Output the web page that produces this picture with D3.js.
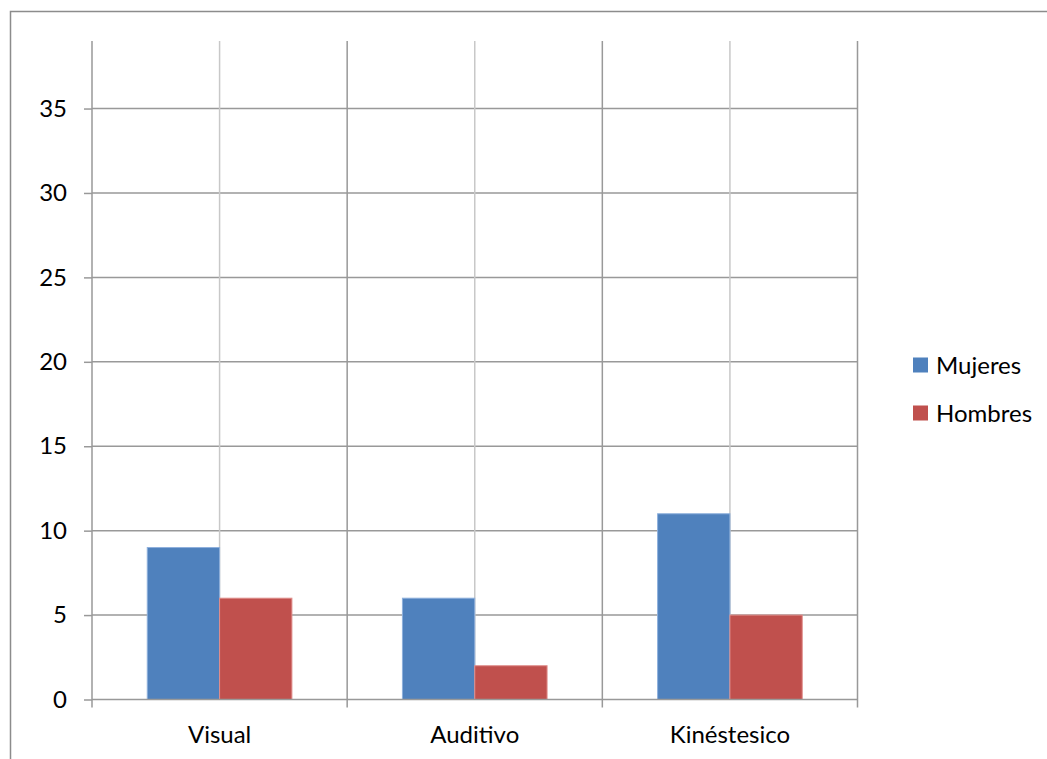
<!DOCTYPE html>
<html>
<head>
<meta charset="utf-8">
<script src="https://cdn.jsdelivr.net/npm/d3@7"></script>
<style>
  html, body { margin: 0; padding: 0; background: #fff; }
  svg { display: block; }
  text { font-family: Lato, "Open Sans", sans-serif; fill: #000; }
</style>
</head>
<body>
<svg id="chart" width="1047" height="759"></svg>
<script>
"use strict";

// data
const categories = ["Visual", "Auditivo", "Kinéstesico"];
const seriesNames = ["Mujeres", "Hombres"];
const mujeres = [9, 6, 11];
const hombres = [6, 2, 5];
const yTicks = [0, 5, 10, 15, 20, 25, 30, 35];
const seriesColors = ["#4f81bd", "#c0504d"];
const barEdge = ["#8eb0dc", "#e08f8c"];

const values = [mujeres, hombres];

const W = 1047, H = 759;
const plot = { left: 92, right: 857.5, top: 41, bottom: 699.5 };
const FONT = "Lato, 'Open Sans', sans-serif";
const FONT_SIZE = 24;

const svg = d3.select("#chart");

// chart border (runs past the window on right/bottom)
svg.append("rect")
  .attr("x", 10.5).attr("y", 11.5)
  .attr("width", W + 20).attr("height", H + 20)
  .attr("fill", "none").attr("stroke", "#8c8c8c").attr("stroke-width", 1.5);

const x = d3.scaleBand()
  .domain(categories)
  .range([plot.left, plot.right])
  .paddingInner(0).paddingOuter(0);

const xSub = d3.scaleBand()
  .domain(seriesNames)
  .range([0, x.bandwidth()])
  .paddingInner(0).paddingOuter(0.764);

const y = d3.scaleLinear()
  .domain([0, 39])
  .range([plot.bottom, plot.top]);

// horizontal gridlines
svg.append("g")
  .selectAll("line")
  .data(yTicks.filter(d => d > 0))
  .join("line")
  .attr("x1", plot.left).attr("x2", plot.right)
  .attr("y1", d => y(d)).attr("y2", d => y(d))
  .attr("stroke", "#999").attr("stroke-width", 1.5);

// minor vertical gridlines at category centres
svg.append("g")
  .selectAll("line")
  .data(categories)
  .join("line")
  .attr("x1", d => x(d) + x.bandwidth() / 2).attr("x2", d => x(d) + x.bandwidth() / 2)
  .attr("y1", plot.top).attr("y2", plot.bottom)
  .attr("stroke", "#c8c8c8").attr("stroke-width", 1.5);

// major vertical gridlines at category boundaries
const bounds = categories.map(d => x(d)).concat([plot.right]);
svg.append("g")
  .selectAll("line")
  .data(bounds.slice(1))
  .join("line")
  .attr("x1", d => d).attr("x2", d => d)
  .attr("y1", plot.top).attr("y2", plot.bottom + 8)
  .attr("stroke", "#999").attr("stroke-width", 1.5);

// bars
const groups = svg.append("g")
  .selectAll("g")
  .data(categories)
  .join("g")
  .attr("transform", d => `translate(${x(d)},0)`);

groups.selectAll("rect")
  .data((d, i) => seriesNames.map((s, j) => ({ s, j, v: values[j][i] })))
  .join("rect")
  .attr("x", d => xSub(d.s))
  .attr("width", xSub.bandwidth())
  .attr("y", d => y(d.v))
  .attr("height", d => y(0) - y(d.v))
  .attr("fill", d => seriesColors[d.j])
  .attr("stroke", d => barEdge[d.j])
  .attr("stroke-width", 1);

// y axis
const yAxis = svg.append("g")
  .attr("transform", `translate(${plot.left},0)`)
  .call(d3.axisLeft(y).tickValues(yTicks).tickSize(8).tickPadding(17).tickFormat(d3.format("d")));
yAxis.select(".domain").attr("stroke", "#999").attr("stroke-width", 1.5)
  .attr("d", `M0,${plot.top}V${plot.bottom + 8}`);
yAxis.selectAll(".tick line").attr("stroke", "#999").attr("stroke-width", 1.5);
yAxis.selectAll(".tick text")
  .attr("font-size", FONT_SIZE).attr("font-family", FONT).attr("fill", "#000");

// x axis
const xAxis = svg.append("g")
  .attr("transform", `translate(0,${plot.bottom})`)
  .call(d3.axisBottom(x).tickSize(0).tickPadding(26));
xAxis.select(".domain").attr("stroke", "#999").attr("stroke-width", 1.5)
  .attr("d", `M${plot.left},0H${plot.right}`);
xAxis.selectAll(".tick text")
  .attr("font-size", FONT_SIZE).attr("font-family", FONT).attr("fill", "#000");

// legend
const legend = svg.append("g")
  .selectAll("g")
  .data(seriesNames)
  .join("g")
  .attr("transform", (d, i) => `translate(913,${357.5 + i * 48})`);
legend.append("rect")
  .attr("width", 15).attr("height", 15)
  .attr("fill", (d, i) => seriesColors[i]);
legend.append("text")
  .attr("x", 23).attr("y", 16)
  .attr("font-size", FONT_SIZE)
  .text(d => d);
</script>
</body>
</html>
